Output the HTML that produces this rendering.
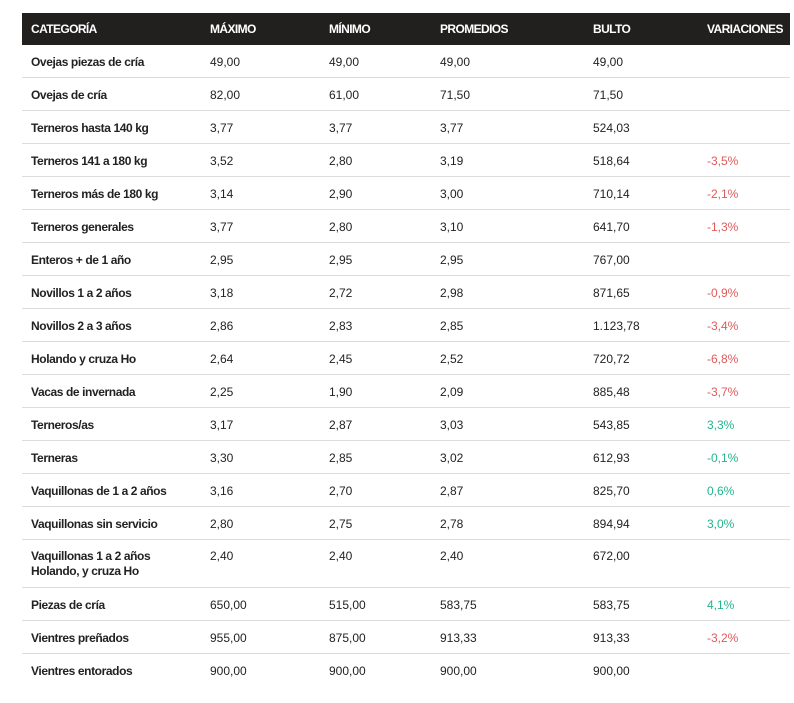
<!DOCTYPE html>
<html><head><meta charset="utf-8"><style>
body{margin:0;width:794px;height:703px;background:#fff;font-family:"Liberation Sans",sans-serif;position:relative;overflow:hidden}
.h{position:absolute;left:22px;top:13px;width:768px;height:32px;background:#221f1f}
.h span{position:absolute;top:9px;color:#fff;font-weight:bold;font-size:12px;letter-spacing:-0.6px}
.r{position:absolute;left:22px;width:768px;border-bottom:1px solid #dcdcdc}
.r span{position:absolute;font-size:12px;color:#222}
.r span.n{font-weight:bold;color:#222;letter-spacing:-0.4px;line-height:15px}
.red{color:#e05a5a!important}.grn{color:#22b58c!important}
</style></head><body>
<div class="h"><span style="left:9px">CATEGORÍA</span><span style="left:188px">MÁXIMO</span><span style="left:307px">MÍNIMO</span><span style="left:418px">PROMEDIOS</span><span style="left:571px">BULTO</span><span style="left:685px">VARIACIONES</span></div>
<div id="t"></div>
<script>
const d=[["Ovejas piezas de cría","49,00","49,00","49,00","49,00",""],
["Ovejas de cría","82,00","61,00","71,50","71,50",""],
["Terneros hasta 140 kg","3,77","3,77","3,77","524,03",""],
["Terneros 141 a 180 kg","3,52","2,80","3,19","518,64","-3,5%"],
["Terneros más de 180 kg","3,14","2,90","3,00","710,14","-2,1%"],
["Terneros generales","3,77","2,80","3,10","641,70","-1,3%"],
["Enteros + de 1 año","2,95","2,95","2,95","767,00",""],
["Novillos 1 a 2 años","3,18","2,72","2,98","871,65","-0,9%"],
["Novillos 2 a 3 años","2,86","2,83","2,85","1.123,78","-3,4%"],
["Holando y cruza Ho","2,64","2,45","2,52","720,72","-6,8%"],
["Vacas de invernada","2,25","1,90","2,09","885,48","-3,7%"],
["Terneros/as","3,17","2,87","3,03","543,85","3,3%"],
["Terneras","3,30","2,85","3,02","612,93","-0,1%"],
["Vaquillonas de 1 a 2 años","3,16","2,70","2,87","825,70","0,6%"],
["Vaquillonas sin servicio","2,80","2,75","2,78","894,94","3,0%"],
["Vaquillonas 1 a 2 años<br>Holando, y cruza Ho","2,40","2,40","2,40","672,00",""],
["Piezas de cría","650,00","515,00","583,75","583,75","4,1%"],
["Vientres preñados","955,00","875,00","913,33","913,33","-3,2%"],
["Vientres entorados","900,00","900,00","900,00","900,00",""]];
const green=new Set(["3,3%","-0,1%","0,6%","3,0%","4,1%"]);
const xs=[9,188,307,418,571,685];let y=45,h="";
d.forEach((r,i)=>{const hh=i==15?47:32;const last=i==d.length-1;
h+=`<div class="r" style="top:${y}px;height:${hh}px;${last?'border:none':''}">`;
r.forEach((c,j)=>{let cl=j==0?'n':(j==5?(green.has(c)?'grn':'red'):'');h+=`<span class="${cl}" style="left:${xs[j]}px;top:${i==15?9:10}px">${c}</span>`});
h+='</div>';y+=hh+1;});
document.getElementById('t').innerHTML=h;
</script>
</body></html>
